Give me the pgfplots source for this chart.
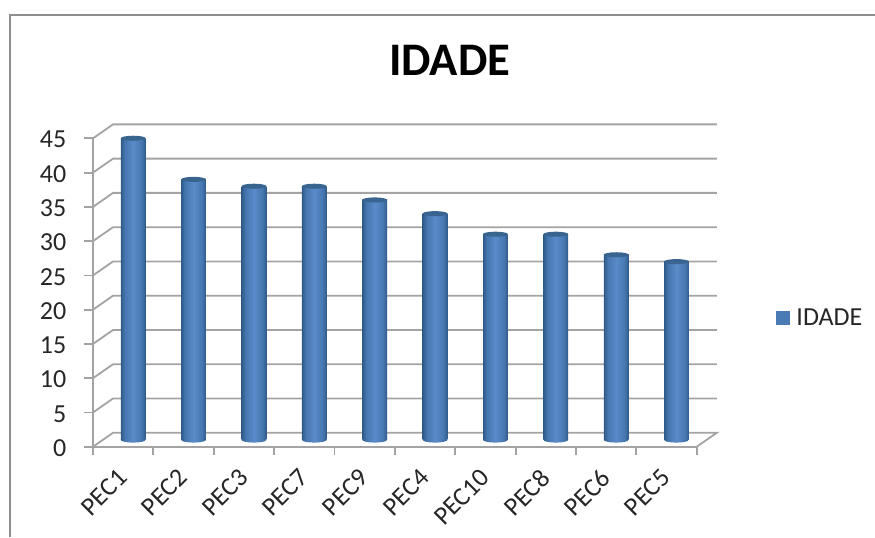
\documentclass[border=0pt]{standalone}
\usepackage{pgfplots}
\usepackage{fontspec}
\setmainfont{Carlito}
\pgfplotsset{compat=1.18}
\definecolor{gridc}{HTML}{A3A3A3}
\definecolor{framec}{HTML}{8E8E8E}
\definecolor{txt}{HTML}{262626}
\definecolor{barA}{HTML}{2F5A88}
\definecolor{barB}{HTML}{4677B0}
\definecolor{barC}{HTML}{5A8BCA}
\definecolor{capc}{HTML}{38648F}
\pgfdeclarehorizontalshading{barshade}{100bp}{color(0bp)=(barA); color(25bp)=(barA); color(33bp)=(barB); color(50bp)=(barC); color(67bp)=(barB); color(75bp)=(barA); color(100bp)=(barA)}
\pgfdeclareplotmark{captop}{\pgfpathellipse{\pgfpointorigin}{\pgfqpoint{9.3pt}{0pt}}{\pgfqpoint{0pt}{1.9pt}}\pgfusepathqfill}
\pgfdeclareplotmark{capbot}{\pgfpathellipse{\pgfpointorigin}{\pgfqpoint{9.3pt}{0pt}}{\pgfqpoint{0pt}{2.1pt}}\pgfshadepath{barshade}{0}\pgfusepath{discard}}
\pgfplotsset{
  grd/.style={gridc,line width=1.35pt,forget plot},
  shf/.style={forget plot,xshift=7.5pt,yshift=5.2pt},
  barb/.style={ybar,bar width=18.6pt,draw=none,shading=barshade,shf},
  capt/.style={only marks,mark=captop,color=capc,shf},
  capb/.style={only marks,mark=capbot,shf},
}
\begin{document}
\begin{tikzpicture}[x=0.75pt,y=0.75pt]
\useasboundingbox (0,0) rectangle (875,537);
\draw[framec,line width=2pt] (10,0) -- (10,522) -- (875,522);
\begin{axis}[
  at={(69.75pt,67.7pt)},anchor=origin,
  scale only axis,width=452.8pt,height=231.3pt,
  xmin=0,xmax=10,ymin=0,ymax=45,clip=false,
  axis lines=left,axis line style={-,gridc,line width=1.35pt},
  xtick={0.5,1.5,...,9.5},
  xticklabels={PEC1,PEC2,PEC3,PEC7,PEC9,PEC4,PEC10,PEC8,PEC6,PEC5},
  minor xtick={0,1,...,10},
  ytick={0,5,...,45},
  tick align=outside,
  major tick length=6.5pt,minor tick length=6pt,
  x tick style={draw=none},
  minor x tick style={draw=gridc,line width=1.35pt},
  y tick style={draw=gridc,line width=1.35pt},
  tick label style={font=\fontsize{19.5}{21}\selectfont,text=txt},
  /pgf/number format/assume math mode=true,
  x tick label style={rotate=45,anchor=north east,xshift=-8.75pt,yshift=-1.95pt,inner sep=1pt},
  y tick label style={xshift=-10pt,yshift=-1pt},
  title={\textbf{IDADE}},
  title style={at={(0.591,1.0)},anchor=base,yshift=40.8pt,font=\fontsize{35}{37}\selectfont,text=black},
  legend style={at={(rel axis cs:1.125,0.417)},anchor=west,draw=none,fill=none,font=\fontsize{19.5}{21}\selectfont,text=txt,legend cell align=left},
]
\addplot[grd] coordinates {(0,0)(0.332,2.04)(10.332,2.04)(10,0)};
\addplot[grd] coordinates {(0,5)(0.332,7.04)(10.332,7.04)};
\addplot[grd] coordinates {(0,10)(0.332,12.04)(10.332,12.04)};
\addplot[grd] coordinates {(0,15)(0.332,17.04)(10.332,17.04)};
\addplot[grd] coordinates {(0,20)(0.332,22.04)(10.332,22.04)};
\addplot[grd] coordinates {(0,25)(0.332,27.04)(10.332,27.04)};
\addplot[grd] coordinates {(0,30)(0.332,32.04)(10.332,32.04)};
\addplot[grd] coordinates {(0,35)(0.332,37.04)(10.332,37.04)};
\addplot[grd] coordinates {(0,40)(0.332,42.04)(10.332,42.04)};
\addplot[grd] coordinates {(0,45)(0.332,47.04)(10.332,47.04)};
\addplot[capb] coordinates {(0.5,0)(1.5,0)(2.5,0)(3.5,0)(4.5,0)(5.5,0)(6.5,0)(7.5,0)(8.5,0)(9.5,0)};
\addplot[barb] coordinates {(0.5,44)};
\addplot[barb] coordinates {(1.5,38)};
\addplot[barb] coordinates {(2.5,37)};
\addplot[barb] coordinates {(3.5,37)};
\addplot[barb] coordinates {(4.5,35)};
\addplot[barb] coordinates {(5.5,33)};
\addplot[barb] coordinates {(6.5,30)};
\addplot[barb] coordinates {(7.5,30)};
\addplot[barb] coordinates {(8.5,27)};
\addplot[barb] coordinates {(9.5,26)};
\addplot[capt] coordinates {(0.5,44)(1.5,38)(2.5,37)(3.5,37)(4.5,35)(5.5,33)(6.5,30)(7.5,30)(8.5,27)(9.5,26)};
\addlegendimage{legend image code/.code={\fill[barB!80!barC,draw=none] (0pt,-5pt) rectangle (10.5pt,5pt);\path (12.8pt,0pt);}}
\addlegendentry{IDADE}
\end{axis}
\end{tikzpicture}
\end{document}
